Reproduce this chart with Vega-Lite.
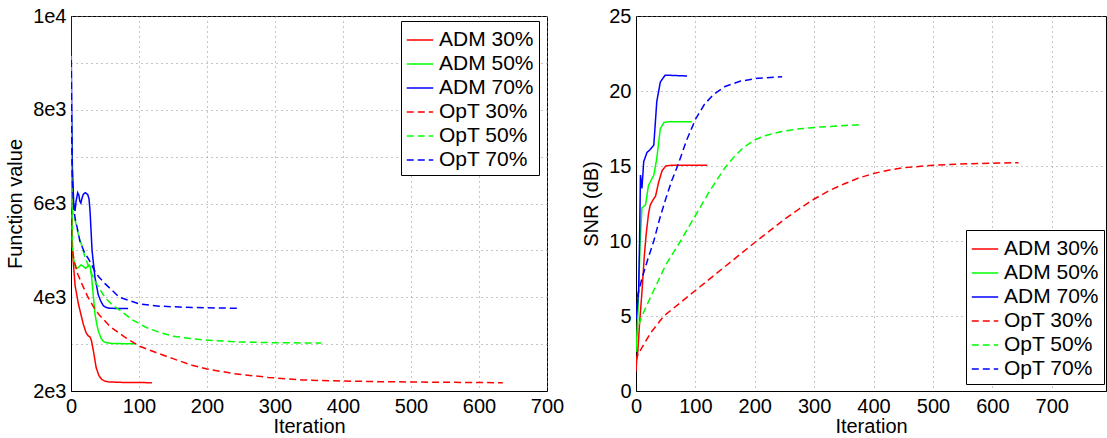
{
  "$schema": "https://vega.github.io/schema/vega-lite/v6.json",
  "padding": {"left": 5, "top": 5, "right": 0, "bottom": 0},
  "background": "white",
  "bounds": "flush",
  "spacing": 89,
  "config": {
    "font": "Liberation Sans",
    "view": {"stroke": "black", "strokeWidth": 1},
    "axis": {
      "labelFont": "Liberation Sans", "labelFontSize": 20, "labelColor": "black",
      "titleFont": "Liberation Sans", "titleFontSize": 20, "titleFontWeight": "normal", "titleColor": "black",
      "grid": true, "gridColor": "#8c8c8c", "gridDash": [1, 4], "gridWidth": 1,
      "ticks": false, "domain": true, "domainColor": "black", "domainWidth": 1,
      "labelPadding": 5, "labelFlush": false, "labelOverlap": false
    },
    "axisX": {"titlePadding": 0},
    "axisY": {"titlePadding": 7},
    "legend": {
      "strokeColor": "black", "fillColor": "white", "padding": 5, "cornerRadius": 0,
      "labelFont": "Liberation Sans", "labelFontSize": 21, "labelColor": "black",
      "symbolType": "stroke", "symbolSize": 700, "symbolStrokeWidth": 1.5,
      "rowPadding": 0, "labelOffset": 5
    }
  },
  "datasets": {
    "fv": [
      {"series": "ADM 30%", "iteration": 0, "value": 9200},
      {"series": "ADM 30%", "iteration": 1, "value": 5200},
      {"series": "ADM 30%", "iteration": 6, "value": 4250},
      {"series": "ADM 30%", "iteration": 11, "value": 3850},
      {"series": "ADM 30%", "iteration": 18, "value": 3430},
      {"series": "ADM 30%", "iteration": 22, "value": 3250},
      {"series": "ADM 30%", "iteration": 25, "value": 3180},
      {"series": "ADM 30%", "iteration": 28, "value": 3150},
      {"series": "ADM 30%", "iteration": 30, "value": 3080},
      {"series": "ADM 30%", "iteration": 33, "value": 2850},
      {"series": "ADM 30%", "iteration": 37, "value": 2500},
      {"series": "ADM 30%", "iteration": 41, "value": 2330},
      {"series": "ADM 30%", "iteration": 45, "value": 2250},
      {"series": "ADM 30%", "iteration": 50, "value": 2210},
      {"series": "ADM 30%", "iteration": 55, "value": 2195},
      {"series": "ADM 30%", "iteration": 70, "value": 2185},
      {"series": "ADM 30%", "iteration": 90, "value": 2180},
      {"series": "ADM 30%", "iteration": 119, "value": 2178},
      {"series": "ADM 50%", "iteration": 0, "value": 9200},
      {"series": "ADM 50%", "iteration": 1, "value": 6500},
      {"series": "ADM 50%", "iteration": 2, "value": 5200},
      {"series": "ADM 50%", "iteration": 3.4, "value": 4840},
      {"series": "ADM 50%", "iteration": 6, "value": 4680},
      {"series": "ADM 50%", "iteration": 8.3, "value": 4610},
      {"series": "ADM 50%", "iteration": 11, "value": 4640},
      {"series": "ADM 50%", "iteration": 14.7, "value": 4690},
      {"series": "ADM 50%", "iteration": 18, "value": 4660},
      {"series": "ADM 50%", "iteration": 21.6, "value": 4615},
      {"series": "ADM 50%", "iteration": 24, "value": 4650},
      {"series": "ADM 50%", "iteration": 26.5, "value": 4690},
      {"series": "ADM 50%", "iteration": 28.5, "value": 4640},
      {"series": "ADM 50%", "iteration": 30.4, "value": 4420},
      {"series": "ADM 50%", "iteration": 33, "value": 4000},
      {"series": "ADM 50%", "iteration": 35.3, "value": 3640},
      {"series": "ADM 50%", "iteration": 38, "value": 3420},
      {"series": "ADM 50%", "iteration": 40.2, "value": 3280},
      {"series": "ADM 50%", "iteration": 44, "value": 3130},
      {"series": "ADM 50%", "iteration": 47.5, "value": 3060},
      {"series": "ADM 50%", "iteration": 52, "value": 3030},
      {"series": "ADM 50%", "iteration": 60, "value": 3015},
      {"series": "ADM 50%", "iteration": 75, "value": 3010},
      {"series": "ADM 50%", "iteration": 95, "value": 3008},
      {"series": "ADM 70%", "iteration": 0, "value": 10000},
      {"series": "ADM 70%", "iteration": 1, "value": 8000},
      {"series": "ADM 70%", "iteration": 2, "value": 6800},
      {"series": "ADM 70%", "iteration": 4, "value": 6000},
      {"series": "ADM 70%", "iteration": 5.9, "value": 5840},
      {"series": "ADM 70%", "iteration": 7.5, "value": 6050},
      {"series": "ADM 70%", "iteration": 9.8, "value": 6230},
      {"series": "ADM 70%", "iteration": 11.5, "value": 6180},
      {"series": "ADM 70%", "iteration": 13, "value": 6050},
      {"series": "ADM 70%", "iteration": 14.5, "value": 6010},
      {"series": "ADM 70%", "iteration": 16, "value": 6100},
      {"series": "ADM 70%", "iteration": 18, "value": 6195},
      {"series": "ADM 70%", "iteration": 21, "value": 6230},
      {"series": "ADM 70%", "iteration": 24.5, "value": 6195},
      {"series": "ADM 70%", "iteration": 26.5, "value": 6100},
      {"series": "ADM 70%", "iteration": 28, "value": 5840},
      {"series": "ADM 70%", "iteration": 31, "value": 4990},
      {"series": "ADM 70%", "iteration": 35.3, "value": 4420},
      {"series": "ADM 70%", "iteration": 40, "value": 4060},
      {"series": "ADM 70%", "iteration": 43.6, "value": 3920},
      {"series": "ADM 70%", "iteration": 47.5, "value": 3820},
      {"series": "ADM 70%", "iteration": 52, "value": 3780},
      {"series": "ADM 70%", "iteration": 57, "value": 3765},
      {"series": "ADM 70%", "iteration": 70, "value": 3760},
      {"series": "ADM 70%", "iteration": 84, "value": 3760},
      {"series": "OpT 30%", "iteration": 0, "value": 9200},
      {"series": "OpT 30%", "iteration": 1, "value": 5100},
      {"series": "OpT 30%", "iteration": 5, "value": 4750},
      {"series": "OpT 30%", "iteration": 10, "value": 4490},
      {"series": "OpT 30%", "iteration": 18, "value": 4220},
      {"series": "OpT 30%", "iteration": 25, "value": 4000},
      {"series": "OpT 30%", "iteration": 33, "value": 3800},
      {"series": "OpT 30%", "iteration": 41, "value": 3630},
      {"series": "OpT 30%", "iteration": 58, "value": 3370},
      {"series": "OpT 30%", "iteration": 78, "value": 3160},
      {"series": "OpT 30%", "iteration": 100, "value": 2960},
      {"series": "OpT 30%", "iteration": 125, "value": 2820},
      {"series": "OpT 30%", "iteration": 150, "value": 2690},
      {"series": "OpT 30%", "iteration": 178, "value": 2550},
      {"series": "OpT 30%", "iteration": 200, "value": 2470},
      {"series": "OpT 30%", "iteration": 240, "value": 2370},
      {"series": "OpT 30%", "iteration": 290, "value": 2290},
      {"series": "OpT 30%", "iteration": 340, "value": 2235},
      {"series": "OpT 30%", "iteration": 400, "value": 2213},
      {"series": "OpT 30%", "iteration": 450, "value": 2200},
      {"series": "OpT 30%", "iteration": 500, "value": 2192},
      {"series": "OpT 30%", "iteration": 560, "value": 2185},
      {"series": "OpT 30%", "iteration": 635, "value": 2177},
      {"series": "OpT 50%", "iteration": 0, "value": 9200},
      {"series": "OpT 50%", "iteration": 1, "value": 6000},
      {"series": "OpT 50%", "iteration": 3, "value": 5800},
      {"series": "OpT 50%", "iteration": 6, "value": 5650},
      {"series": "OpT 50%", "iteration": 10.7, "value": 5340},
      {"series": "OpT 50%", "iteration": 16, "value": 5100},
      {"series": "OpT 50%", "iteration": 20.6, "value": 4850},
      {"series": "OpT 50%", "iteration": 28, "value": 4580},
      {"series": "OpT 50%", "iteration": 35, "value": 4350},
      {"series": "OpT 50%", "iteration": 50, "value": 3990},
      {"series": "OpT 50%", "iteration": 62, "value": 3820},
      {"series": "OpT 50%", "iteration": 75, "value": 3690},
      {"series": "OpT 50%", "iteration": 90, "value": 3520},
      {"series": "OpT 50%", "iteration": 110, "value": 3360},
      {"series": "OpT 50%", "iteration": 130, "value": 3250},
      {"series": "OpT 50%", "iteration": 150, "value": 3170},
      {"series": "OpT 50%", "iteration": 180, "value": 3110},
      {"series": "OpT 50%", "iteration": 210, "value": 3075},
      {"series": "OpT 50%", "iteration": 250, "value": 3045},
      {"series": "OpT 50%", "iteration": 290, "value": 3032},
      {"series": "OpT 50%", "iteration": 330, "value": 3027},
      {"series": "OpT 50%", "iteration": 368, "value": 3025},
      {"series": "OpT 70%", "iteration": 0, "value": 10000},
      {"series": "OpT 70%", "iteration": 1, "value": 7500},
      {"series": "OpT 70%", "iteration": 2, "value": 6500},
      {"series": "OpT 70%", "iteration": 4, "value": 5900},
      {"series": "OpT 70%", "iteration": 6, "value": 5690},
      {"series": "OpT 70%", "iteration": 10, "value": 5420},
      {"series": "OpT 70%", "iteration": 13, "value": 5200},
      {"series": "OpT 70%", "iteration": 20, "value": 4950},
      {"series": "OpT 70%", "iteration": 26.5, "value": 4800},
      {"series": "OpT 70%", "iteration": 35, "value": 4560},
      {"series": "OpT 70%", "iteration": 41, "value": 4430},
      {"series": "OpT 70%", "iteration": 50, "value": 4290},
      {"series": "OpT 70%", "iteration": 61, "value": 4140},
      {"series": "OpT 70%", "iteration": 71, "value": 4000},
      {"series": "OpT 70%", "iteration": 90, "value": 3910},
      {"series": "OpT 70%", "iteration": 100, "value": 3860},
      {"series": "OpT 70%", "iteration": 130, "value": 3810},
      {"series": "OpT 70%", "iteration": 160, "value": 3790},
      {"series": "OpT 70%", "iteration": 200, "value": 3775},
      {"series": "OpT 70%", "iteration": 247, "value": 3765}
    ],
    "snr": [
      {"series": "ADM 30%", "iteration": 0, "value": 1.3},
      {"series": "ADM 30%", "iteration": 1, "value": 2.0},
      {"series": "ADM 30%", "iteration": 3, "value": 2.6},
      {"series": "ADM 30%", "iteration": 6, "value": 4.5},
      {"series": "ADM 30%", "iteration": 10, "value": 6.6},
      {"series": "ADM 30%", "iteration": 14, "value": 9.0},
      {"series": "ADM 30%", "iteration": 17, "value": 10.4},
      {"series": "ADM 30%", "iteration": 21, "value": 11.8},
      {"series": "ADM 30%", "iteration": 24, "value": 12.4},
      {"series": "ADM 30%", "iteration": 28, "value": 12.7},
      {"series": "ADM 30%", "iteration": 33, "value": 13.0},
      {"series": "ADM 30%", "iteration": 38, "value": 13.9},
      {"series": "ADM 30%", "iteration": 44, "value": 14.7},
      {"series": "ADM 30%", "iteration": 50, "value": 15.0},
      {"series": "ADM 30%", "iteration": 60, "value": 15.05},
      {"series": "ADM 30%", "iteration": 120, "value": 15.05},
      {"series": "ADM 50%", "iteration": 0, "value": 2.6},
      {"series": "ADM 50%", "iteration": 2, "value": 4.0},
      {"series": "ADM 50%", "iteration": 4.5, "value": 6.6},
      {"series": "ADM 50%", "iteration": 7, "value": 10.0},
      {"series": "ADM 50%", "iteration": 10, "value": 12.2},
      {"series": "ADM 50%", "iteration": 16, "value": 12.4},
      {"series": "ADM 50%", "iteration": 21, "value": 13.7},
      {"series": "ADM 50%", "iteration": 30, "value": 14.4},
      {"series": "ADM 50%", "iteration": 35, "value": 15.5},
      {"series": "ADM 50%", "iteration": 41, "value": 17.5},
      {"series": "ADM 50%", "iteration": 47, "value": 17.9},
      {"series": "ADM 50%", "iteration": 55, "value": 17.95},
      {"series": "ADM 50%", "iteration": 94, "value": 17.95},
      {"series": "ADM 70%", "iteration": 0, "value": 4.8},
      {"series": "ADM 70%", "iteration": 2, "value": 5.5},
      {"series": "ADM 70%", "iteration": 4.5, "value": 6.8},
      {"series": "ADM 70%", "iteration": 6, "value": 10.0},
      {"series": "ADM 70%", "iteration": 7.5, "value": 14.4},
      {"series": "ADM 70%", "iteration": 10, "value": 13.5},
      {"series": "ADM 70%", "iteration": 13, "value": 15.3},
      {"series": "ADM 70%", "iteration": 18.5, "value": 15.9},
      {"series": "ADM 70%", "iteration": 24, "value": 16.1},
      {"series": "ADM 70%", "iteration": 30, "value": 16.4},
      {"series": "ADM 70%", "iteration": 35, "value": 19.3},
      {"series": "ADM 70%", "iteration": 41, "value": 20.6},
      {"series": "ADM 70%", "iteration": 49, "value": 21.05},
      {"series": "ADM 70%", "iteration": 55, "value": 21.05},
      {"series": "ADM 70%", "iteration": 86, "value": 21.0},
      {"series": "OpT 30%", "iteration": 0, "value": 2.0},
      {"series": "OpT 30%", "iteration": 2, "value": 2.3},
      {"series": "OpT 30%", "iteration": 10, "value": 2.9},
      {"series": "OpT 30%", "iteration": 25, "value": 3.9},
      {"series": "OpT 30%", "iteration": 47, "value": 5.0},
      {"series": "OpT 30%", "iteration": 75, "value": 5.9},
      {"series": "OpT 30%", "iteration": 100, "value": 6.7},
      {"series": "OpT 30%", "iteration": 150, "value": 8.3},
      {"series": "OpT 30%", "iteration": 200, "value": 9.9},
      {"series": "OpT 30%", "iteration": 250, "value": 11.45},
      {"series": "OpT 30%", "iteration": 275, "value": 12.15},
      {"series": "OpT 30%", "iteration": 300, "value": 12.8},
      {"series": "OpT 30%", "iteration": 325, "value": 13.35},
      {"series": "OpT 30%", "iteration": 350, "value": 13.8},
      {"series": "OpT 30%", "iteration": 375, "value": 14.2},
      {"series": "OpT 30%", "iteration": 400, "value": 14.5},
      {"series": "OpT 30%", "iteration": 425, "value": 14.72},
      {"series": "OpT 30%", "iteration": 450, "value": 14.88},
      {"series": "OpT 30%", "iteration": 500, "value": 15.05},
      {"series": "OpT 30%", "iteration": 560, "value": 15.15},
      {"series": "OpT 30%", "iteration": 610, "value": 15.2},
      {"series": "OpT 30%", "iteration": 644, "value": 15.22},
      {"series": "OpT 50%", "iteration": 0, "value": 3.0},
      {"series": "OpT 50%", "iteration": 3, "value": 4.2},
      {"series": "OpT 50%", "iteration": 10, "value": 5.0},
      {"series": "OpT 50%", "iteration": 25, "value": 6.3},
      {"series": "OpT 50%", "iteration": 50, "value": 8.4},
      {"series": "OpT 50%", "iteration": 75, "value": 10.0},
      {"series": "OpT 50%", "iteration": 100, "value": 11.7},
      {"series": "OpT 50%", "iteration": 125, "value": 13.4},
      {"series": "OpT 50%", "iteration": 150, "value": 14.9},
      {"series": "OpT 50%", "iteration": 165, "value": 15.6},
      {"series": "OpT 50%", "iteration": 180, "value": 16.2},
      {"series": "OpT 50%", "iteration": 200, "value": 16.75},
      {"series": "OpT 50%", "iteration": 220, "value": 17.05},
      {"series": "OpT 50%", "iteration": 245, "value": 17.3},
      {"series": "OpT 50%", "iteration": 275, "value": 17.48},
      {"series": "OpT 50%", "iteration": 310, "value": 17.6},
      {"series": "OpT 50%", "iteration": 375, "value": 17.75},
      {"series": "OpT 70%", "iteration": 0, "value": 4.8},
      {"series": "OpT 70%", "iteration": 3, "value": 6.4},
      {"series": "OpT 70%", "iteration": 10, "value": 7.5},
      {"series": "OpT 70%", "iteration": 20, "value": 8.8},
      {"series": "OpT 70%", "iteration": 30, "value": 10.0},
      {"series": "OpT 70%", "iteration": 40, "value": 11.5},
      {"series": "OpT 70%", "iteration": 50, "value": 12.8},
      {"series": "OpT 70%", "iteration": 60, "value": 14.0},
      {"series": "OpT 70%", "iteration": 70, "value": 15.0},
      {"series": "OpT 70%", "iteration": 85, "value": 16.7},
      {"series": "OpT 70%", "iteration": 100, "value": 18.1},
      {"series": "OpT 70%", "iteration": 115, "value": 19.1},
      {"series": "OpT 70%", "iteration": 130, "value": 19.75},
      {"series": "OpT 70%", "iteration": 150, "value": 20.3},
      {"series": "OpT 70%", "iteration": 175, "value": 20.65},
      {"series": "OpT 70%", "iteration": 205, "value": 20.85},
      {"series": "OpT 70%", "iteration": 246, "value": 20.95}
    ]
  },
  "resolve": {
    "scale": {"x": "independent", "y": "independent", "color": "independent", "strokeDash": "independent"},
    "legend": {"color": "independent", "strokeDash": "independent"}
  },
  "hconcat": [
    {
      "width": 476,
      "height": 375,
      "data": {"name": "fv"},
      "mark": {"type": "line", "strokeWidth": 1.5, "clip": true},
      "encoding": {
        "x": {"field": "iteration", "type": "quantitative",
              "scale": {"domain": [0, 700], "nice": false, "zero": false},
              "axis": {"title": "Iteration", "values": [0, 100, 200, 300, 400, 500, 600, 700]}},
        "y": {"field": "value", "type": "quantitative",
              "scale": {"domain": [2000, 10000], "nice": false, "zero": false},
              "axis": {"title": "Function value",
                       "values": [2000, 3000, 4000, 5000, 6000, 7000, 8000, 9000, 10000],
                       "labelExpr": "datum.value == 10000 ? '1e4' : (datum.value % 2000 == 0 ? (datum.value / 1000) + 'e3' : '')"}},
        "color": {"field": "series", "type": "nominal",
                  "scale": {"domain": ["ADM 30%", "ADM 50%", "ADM 70%", "OpT 30%", "OpT 50%", "OpT 70%"],
                            "range": ["#ff0000", "#00ff00", "#0000ff", "#ff0000", "#00ff00", "#0000ff"]},
                  "legend": {"title": null, "orient": "none", "legendX": 330, "legendY": 5}},
        "strokeDash": {"field": "series", "type": "nominal",
                  "scale": {"domain": ["ADM 30%", "ADM 50%", "ADM 70%", "OpT 30%", "OpT 50%", "OpT 70%"],
                            "range": [[1, 0], [1, 0], [1, 0], [7, 4], [7, 4], [7, 4]]},
                  "legend": {"title": null, "orient": "none", "legendX": 330, "legendY": 5}}
      }
    },
    {
      "width": 470,
      "height": 375,
      "data": {"name": "snr"},
      "mark": {"type": "line", "strokeWidth": 1.5, "clip": true},
      "encoding": {
        "x": {"field": "iteration", "type": "quantitative",
              "scale": {"domain": [0, 791.4], "nice": false, "zero": false},
              "axis": {"title": "Iteration", "values": [0, 100, 200, 300, 400, 500, 600, 700]}},
        "y": {"field": "value", "type": "quantitative",
              "scale": {"domain": [0, 25], "nice": false},
              "axis": {"title": "SNR (dB)", "values": [0, 5, 10, 15, 20, 25]}},
        "color": {"field": "series", "type": "nominal",
                  "scale": {"domain": ["ADM 30%", "ADM 50%", "ADM 70%", "OpT 30%", "OpT 50%", "OpT 70%"],
                            "range": ["#ff0000", "#00ff00", "#0000ff", "#ff0000", "#00ff00", "#0000ff"]},
                  "legend": {"title": null, "orient": "none", "legendX": 330, "legendY": 214}},
        "strokeDash": {"field": "series", "type": "nominal",
                  "scale": {"domain": ["ADM 30%", "ADM 50%", "ADM 70%", "OpT 30%", "OpT 50%", "OpT 70%"],
                            "range": [[1, 0], [1, 0], [1, 0], [7, 4], [7, 4], [7, 4]]},
                  "legend": {"title": null, "orient": "none", "legendX": 330, "legendY": 214}}
      }
    }
  ]
}
